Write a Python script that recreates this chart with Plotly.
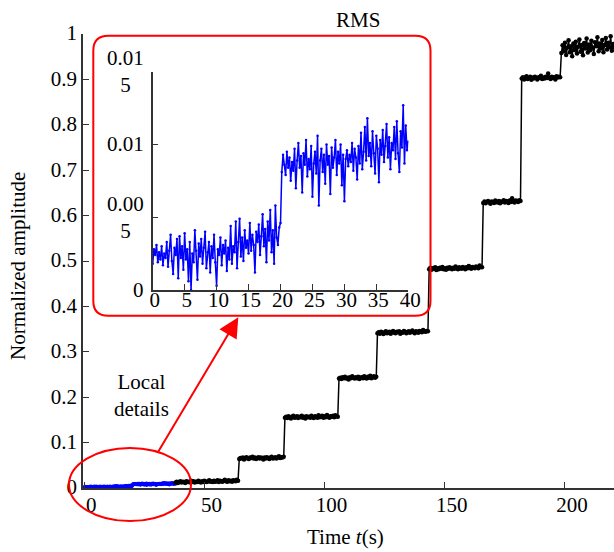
import plotly.graph_objects as go

# ---------------------------------------------------------------------------
# Data
# ---------------------------------------------------------------------------
# RMS of the first 40 s, sampled every 0.2 s (shown in blue, and in the inset)
detail_dt = 0.2
detail_rms = [
    0.0018, 0.0028, 0.0024, 0.0031, 0.0019, 0.0026, 0.0021, 0.0030, 0.0017, 0.0025,
    0.0022, 0.0033, 0.0016, 0.0027, 0.0038, 0.0020, 0.0011, 0.0029, 0.0024, 0.0035,
    0.0008, 0.0037, 0.0022, 0.0030, 0.0014, 0.0039, 0.0021, 0.0028, 0.0006, 0.0033,
    0.0000, 0.0025, 0.0019, 0.0041, 0.0027, 0.0007, 0.0032, 0.0023, 0.0035, 0.0018,
    0.0029, 0.0040, 0.0015, 0.0026, 0.0033, 0.0012, 0.0030, 0.0022, 0.0038, 0.0019,
    0.0003, 0.0028, 0.0024, 0.0036, 0.0017, 0.0031, 0.0025, 0.0034, 0.0013, 0.0029,
    0.0021, 0.0044, 0.0018, 0.0030, 0.0026, 0.0047, 0.0015, 0.0033, 0.0049, 0.0023,
    0.0036, 0.0020, 0.0041, 0.0029, 0.0034, 0.0025, 0.0046, 0.0027, 0.0038, 0.0031,
    0.0012, 0.0040, 0.0033, 0.0045, 0.0024, 0.0037, 0.0052, 0.0030, 0.0042, 0.0019,
    0.0047, 0.0034, 0.0055, 0.0026, 0.0041, 0.0018, 0.0058, 0.0036, 0.0031, 0.0043,
    0.0046, 0.0081, 0.0093, 0.0086, 0.0079, 0.0095, 0.0084, 0.0091, 0.0075, 0.0088,
    0.0082, 0.0097, 0.0070, 0.0089, 0.0101, 0.0084, 0.0092, 0.0067, 0.0094, 0.0086,
    0.0103, 0.0078, 0.0090, 0.0083, 0.0099, 0.0064, 0.0087, 0.0095, 0.0080, 0.0106,
    0.0058, 0.0089, 0.0097, 0.0081, 0.0093, 0.0073, 0.0100, 0.0086, 0.0092, 0.0066,
    0.0098, 0.0084, 0.0091, 0.0103, 0.0079, 0.0095, 0.0087, 0.0100, 0.0072, 0.0093,
    0.0061, 0.0090, 0.0096, 0.0085, 0.0093, 0.0088, 0.0101, 0.0082, 0.0097, 0.0091,
    0.0076, 0.0099, 0.0087, 0.0108, 0.0083, 0.0095, 0.0112, 0.0089, 0.0118, 0.0092,
    0.0101, 0.0085, 0.0109, 0.0094, 0.0080, 0.0106, 0.0097, 0.0074, 0.0103, 0.0093,
    0.0110, 0.0088, 0.0099, 0.0114, 0.0091, 0.0105, 0.0083, 0.0101, 0.0096, 0.0112,
    0.0090, 0.0116, 0.0094, 0.0081, 0.0109, 0.0098, 0.0127, 0.0087, 0.0113, 0.0096,
    0.0102,
]
detail_end = 38  # the blue part of the full record stops here

# Full record from 38 s on, one list per load step, sampled every 0.5 s
step_dt = 0.5
step_starts = [38, 64.5, 83.5, 106, 122, 143.5, 166, 182, 198.5]
step_rms = [
    [0.012, 0.014, 0.011, 0.013, 0.015, 0.012, 0.014, 0.013, 0.011, 0.015,
     0.013, 0.014, 0.012, 0.016, 0.013, 0.015, 0.012, 0.014, 0.013, 0.016,
     0.014, 0.012, 0.015, 0.013, 0.016, 0.014, 0.013, 0.015, 0.017, 0.014,
     0.015, 0.013, 0.016, 0.014, 0.015, 0.017, 0.013, 0.016, 0.015, 0.014,
     0.016, 0.018, 0.015, 0.014, 0.017, 0.015, 0.016, 0.014, 0.017, 0.016,
     0.015, 0.018, 0.016],
    [0.064, 0.066, 0.065, 0.067, 0.063, 0.066, 0.068, 0.065, 0.064, 0.067,
     0.066, 0.069, 0.065, 0.067, 0.064, 0.066, 0.068, 0.065, 0.067, 0.066,
     0.063, 0.067, 0.065, 0.068, 0.066, 0.064, 0.067, 0.069, 0.065, 0.066,
     0.068, 0.065, 0.067, 0.070, 0.066, 0.068, 0.067, 0.069],
    [0.155, 0.157, 0.154, 0.158, 0.156, 0.153, 0.157, 0.159, 0.155, 0.156,
     0.158, 0.154, 0.157, 0.156, 0.159, 0.155, 0.157, 0.153, 0.158, 0.156,
     0.157, 0.155, 0.159, 0.156, 0.154, 0.158, 0.157, 0.155, 0.160, 0.156,
     0.157, 0.159, 0.155, 0.158, 0.156, 0.161, 0.157, 0.155, 0.158, 0.157,
     0.159, 0.156, 0.160, 0.158, 0.157],
    [0.241, 0.243, 0.240, 0.244, 0.242, 0.245, 0.241, 0.243, 0.239, 0.244,
     0.242, 0.246, 0.243, 0.241, 0.244, 0.242, 0.245, 0.240, 0.243, 0.244,
     0.242, 0.246, 0.243, 0.241, 0.245, 0.243, 0.247, 0.242, 0.244, 0.246,
     0.243, 0.245],
    [0.341, 0.343, 0.340, 0.344, 0.342, 0.339, 0.343, 0.345, 0.341, 0.342,
     0.344, 0.340, 0.343, 0.346, 0.342, 0.341, 0.344, 0.343, 0.345, 0.340,
     0.343, 0.342, 0.346, 0.344, 0.341, 0.343, 0.345, 0.342, 0.344, 0.347,
     0.343, 0.341, 0.345, 0.344, 0.342, 0.346, 0.344, 0.343, 0.348, 0.345,
     0.344, 0.346, 0.345],
    [0.482, 0.485, 0.481, 0.484, 0.483, 0.486, 0.480, 0.484, 0.482, 0.485,
     0.483, 0.487, 0.482, 0.484, 0.481, 0.485, 0.483, 0.486, 0.484, 0.482,
     0.485, 0.483, 0.488, 0.484, 0.482, 0.486, 0.484, 0.483, 0.487, 0.485,
     0.482, 0.486, 0.484, 0.489, 0.485, 0.483, 0.487, 0.485, 0.484, 0.488,
     0.486, 0.484, 0.490, 0.487, 0.486],
    [0.628, 0.631, 0.627, 0.630, 0.632, 0.629, 0.626, 0.631, 0.630, 0.628,
     0.633, 0.630, 0.629, 0.632, 0.627, 0.631, 0.630, 0.634, 0.629, 0.632,
     0.631, 0.628, 0.633, 0.630, 0.638, 0.631, 0.629, 0.633, 0.632, 0.630,
     0.634, 0.632],
    [0.902, 0.905, 0.900, 0.904, 0.907, 0.901, 0.903, 0.906, 0.899, 0.904,
     0.902, 0.906, 0.903, 0.900, 0.905, 0.903, 0.908, 0.901, 0.904, 0.902,
     0.906, 0.903, 0.913, 0.904, 0.901, 0.906, 0.903, 0.905, 0.900, 0.907,
     0.904, 0.906, 0.905],
    [0.958, 0.975, 0.962, 0.981, 0.954, 0.970, 0.986, 0.960, 0.973, 0.951,
     0.979, 0.965, 0.983, 0.957, 0.972, 0.988, 0.961, 0.976, 0.953, 0.980,
     0.968, 0.990, 0.959, 0.977, 0.964, 0.985, 0.970, 0.956, 0.982, 0.973,
     0.993, 0.962, 0.979, 0.968, 0.987, 0.960, 0.976, 0.991, 0.966, 0.981,
     0.971, 0.995, 0.963, 0.978, 0.970],
]

main_xticks = [0, 50, 100, 150, 200]
main_yticks = [0, 0.1, 0.2, 0.3, 0.4, 0.5, 0.6, 0.7, 0.8, 0.9, 1]
main_yticktext = ["0", "0.1", "0.2", "0.3", "0.4", "0.5", "0.6", "0.7", "0.8", "0.9", "1"]
inset_xticks = [0, 5, 10, 15, 20, 25, 30, 35, 40]
inset_ytick_vals = [0, 0.005, 0.01, 0.015]
inset_ytick_text = ["0", "0.00<br>5", "0.01", "0.01<br>5"]

# ---------------------------------------------------------------------------
# Sample times
# ---------------------------------------------------------------------------
detail_t = [round(i * detail_dt, 3) for i in range(len(detail_rms))]
step_t, step_v = [], []
for start, vals in zip(step_starts, step_rms):
    step_t += [start + i * step_dt for i in range(len(vals))]
    step_v += vals
early_t = [t for t in detail_t if t <= detail_end]
early_v = detail_rms[:len(early_t)]

# ---------------------------------------------------------------------------
# Page geometry (pixels) and helpers for layout-level items
# ---------------------------------------------------------------------------
W, H = 614, 552
ML, MR, MT, MB = 83, 0, 34, 64
PW, PH = W - ML - MR, H - MT - MB


def px(x):
    return (x - ML) / PW


def py(y):
    return (H - MB - y) / PH


FONT = "Liberation Serif, Times New Roman, serif"
AX = "#333333"
RED = "#ff0000"

fig = go.Figure()

# Main panel
fig.add_trace(go.Scatter(
    x=early_t, y=early_v, mode="lines+markers",
    line=dict(color="#0000ff", width=2), marker=dict(color="#0000ff", size=3.5),
    xaxis="x", yaxis="y", showlegend=False, hoverinfo="skip"))
fig.add_trace(go.Scatter(
    x=step_t, y=step_v, mode="lines+markers",
    line=dict(color="black", width=1.5), marker=dict(color="black", size=4.5),
    xaxis="x", yaxis="y", showlegend=False, hoverinfo="skip"))

# Inset panel
fig.add_trace(go.Scatter(
    x=detail_t, y=detail_rms, mode="lines+markers",
    line=dict(color="#0000ff", width=1.5), marker=dict(color="#0000ff", size=2.5),
    xaxis="x2", yaxis="y2", showlegend=False, hoverinfo="skip"))

axis_common = dict(showgrid=False, zeroline=False, showline=True, linecolor=AX,
                   linewidth=1.5, ticks="inside", tickcolor=AX, tickwidth=1.2,
                   ticklen=6, automargin=False,
                   tickfont=dict(family=FONT, size=21, color="black"))

fig.update_layout(
    width=W, height=H, autosize=False,
    margin=dict(l=ML, r=MR, t=MT, b=MB, autoexpand=False),
    paper_bgcolor="white", plot_bgcolor="rgba(0,0,0,0)",
    xaxis=dict(range=[-0.5, 220.4], tickvals=main_xticks, ticklabelshift=7,
               ticklabelstandoff=-3, domain=[0, 1], **axis_common),
    yaxis=dict(range=[0, 1], tickvals=main_yticks, ticktext=main_yticktext,
               ticklabelshift=-1, domain=[0, 1], **axis_common),
    xaxis2=dict(range=[0, 40], tickvals=inset_xticks, anchor="y2",
                ticklabelstandoff=-10, ticklabelshift=2,
                domain=[px(152.7), px(408.3)], **axis_common),
    yaxis2=dict(range=[0, 0.015], tickvals=inset_ytick_vals, showticklabels=False,
                anchor="x2", domain=[py(290), py(71.7)], **axis_common),
)

text_font = dict(family=FONT, size=21, color="black")
annotations = [
    dict(text="RMS", x=px(357.5), y=py(20.5), font=text_font),
    dict(text="Time <i>t</i>(s)", x=px(345), y=py(537), font=text_font),
    dict(text="Normalized amplitude", x=px(18), y=py(266), textangle=-90,
         font=text_font),
    dict(text="Local<br>details", x=px(141), y=py(395), align="center",
         font=text_font),
]
for a in annotations:
    a.update(xref="paper", yref="paper", xanchor="center", yanchor="middle",
             showarrow=False)
annotations.append(
    dict(text="", x=px(238.3), y=py(317.3), xref="paper", yref="paper",
         showarrow=True, ax=-81, ay=136, arrowhead=2, arrowsize=2, arrowwidth=2,
         arrowcolor=RED, standoff=0))
for v, t in zip(inset_ytick_vals, inset_ytick_text):
    annotations.append(dict(text=t, x=px(146), y=v, xref="paper", yref="y2",
                            xanchor="right", yanchor="middle", align="center",
                            showarrow=False, font=text_font))
fig.update_layout(annotations=annotations)

# Rounded frame around the inset
x0, x1, yt, yb = px(93.3), px(430.5), py(35.7), py(315.7)
rx, ry = 15 / PW, 15 / PH
frame = (f"M {x0 + rx},{yt} L {x1 - rx},{yt} Q {x1},{yt} {x1},{yt - ry} "
         f"L {x1},{yb + ry} Q {x1},{yb} {x1 - rx},{yb} "
         f"L {x0 + rx},{yb} Q {x0},{yb} {x0},{yb + ry} "
         f"L {x0},{yt - ry} Q {x0},{yt} {x0 + rx},{yt} Z")
fig.add_shape(type="path", path=frame, xref="paper", yref="paper",
              line=dict(color=RED, width=2), layer="above")
# Ellipse marking the detailed region
fig.add_shape(type="circle", xref="paper", yref="paper",
              x0=px(69), x1=px(191), y0=py(521), y1=py(448),
              line=dict(color=RED, width=2), layer="above")

fig.write_html(
    "out.html",
    config={"responsive": False, "displayModeBar": False},
    post_script="document.documentElement.style.overflow='hidden';"
                "document.body.style.overflow='hidden';"
                "document.body.style.margin='0';",
)
